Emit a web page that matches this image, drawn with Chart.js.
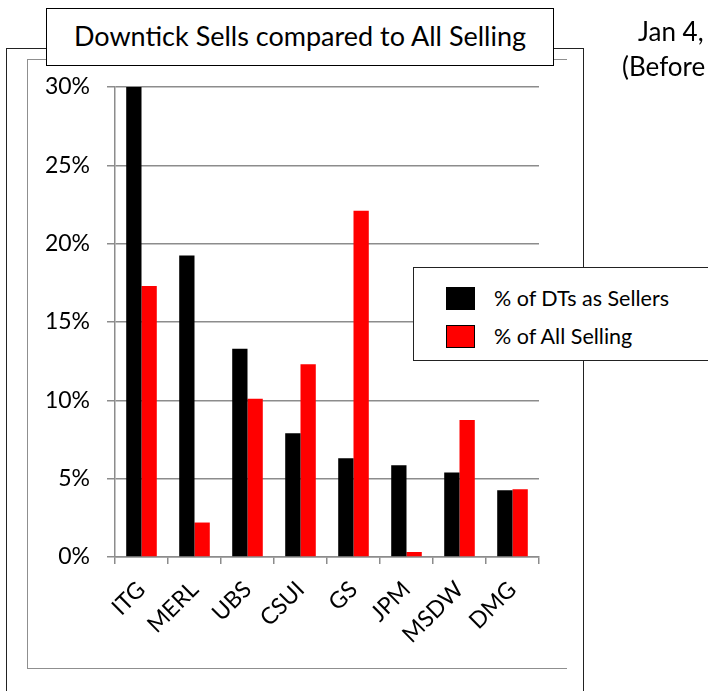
<!DOCTYPE html>
<html>
<head>
<meta charset="utf-8">
<script src="https://cdn.jsdelivr.net/npm/chart.js@4.4.1/dist/chart.umd.min.js"></script>
<style>
  html, body { margin: 0; padding: 0; background: #fff; }
  body { width: 708px; height: 691px; position: relative; overflow: hidden; font-family: Lato, "Open Sans", sans-serif; }
  #outer { position: absolute; left: 6px; top: 48px; width: 578px; height: 700px; border: 1.5px solid #222; box-sizing: border-box; }
  #inner { position: absolute; left: 27px; top: 59px; width: 540px; height: 610px; border-left: 1.5px solid #8f8f8f; border-top: 1.5px solid #8f8f8f; border-bottom: 1.5px solid #8f8f8f; box-sizing: border-box; }
  #wrap { position: absolute; left: 0; top: 0; width: 708px; height: 691px; }
  #title { position: absolute; left: 46px; top: 8px; width: 508px; height: 58px; border: 1.5px solid #000; background: #fff; box-sizing: border-box; font-size: 27px; color: #000; text-align: center; line-height: 54px; white-space: nowrap; }
  #side { position: absolute; left: 622px; top: 14px; font-size: 26px; line-height: 35px; color: #000; white-space: nowrap; }
  #legend { position: absolute; left: 413px; top: 267px; width: 300px; height: 94px; border: 1.5px solid #222; background: #fff; box-sizing: border-box; }
  .li { position: absolute; left: 32px; height: 24px; font-size: 21.5px; line-height: 24px; white-space: nowrap; color: #000; }
  .sw { position: absolute; left: 0; top: 0; width: 29px; height: 23px; box-sizing: border-box; border: 1.5px solid #000; }
  .lt { position: absolute; left: 48px; top: -1px; }
</style>
</head>
<body>
<div id="outer"></div>
<div id="inner"></div>
<div id="wrap"><canvas id="c" width="708" height="691"></canvas></div>
<div id="legend"></div>
<div id="title">Downtick Sells compared to All Selling</div>
<div id="side"><div style="padding-left:16px">Jan 4,</div><div>(Before</div></div>
<script>
const chartTitle = 'Downtick Sells compared to All Selling';
const categories = ['ITG', 'MERL', 'UBS', 'CSUI', 'GS', 'JPM', 'MSDW', 'DMG'];
const dtSellers = [30, 19.25, 13.3, 7.9, 6.3, 5.85, 5.4, 4.26];
const allSelling = [17.3, 2.2, 10.1, 12.3, 22.1, 0.32, 8.74, 4.33];
const seriesNames = ['% of DTs as Sellers', '% of All Selling'];
const seriesColors = ['#000000', '#ff0000'];
const yTickValues = [0, 5, 10, 15, 20, 25, 30];
const yTickLabels = ['0%', '5%', '10%', '15%', '20%', '25%', '30%'];

const gridColor = '#8c8c8c';
const tickFont = { family: 'Lato, "Open Sans", sans-serif', size: 23 };

const chart = new Chart(document.getElementById('c'), {
  type: 'bar',
  data: {
    labels: categories,
    datasets: [
      { label: seriesNames[0], data: dtSellers, backgroundColor: seriesColors[0], borderWidth: 0, categoryPercentage: 0.577, barPercentage: 1.0 },
      { label: seriesNames[1], data: allSelling, backgroundColor: seriesColors[1], borderWidth: 0, categoryPercentage: 0.577, barPercentage: 1.0 }
    ]
  },
  options: {
    responsive: false,
    animation: false,
    devicePixelRatio: 1,
    layout: { padding: { left: 0, top: 87, right: 169, bottom: 0 } },
    plugins: { legend: { display: false }, title: { display: false }, tooltip: { enabled: false } },
    scales: {
      x: {
        grid: { display: true, drawOnChartArea: false, drawTicks: true, tickLength: 7, color: gridColor, lineWidth: 1.5, offset: true },
        border: { display: true, color: gridColor, width: 1.5 },
        ticks: { font: tickFont, color: '#000', minRotation: 45, maxRotation: 45, autoSkip: false, padding: 12 },
        afterFit: s => { s.height = 134; }
      },
      y: {
        min: 0, max: 30,
        afterBuildTicks: s => { s.ticks = yTickValues.map(v => ({ value: v })); },
        ticks: { font: tickFont, color: '#000', padding: 17, callback: (v) => yTickLabels[yTickValues.indexOf(v)] },
        grid: { color: gridColor, lineWidth: 1.5, tickLength: 8, drawTicks: true },
        border: { display: true, color: gridColor, width: 1.5 },
        afterFit: s => { s.width = 115; }
      }
    }
  }
});

// legend built from the chart's datasets
const legend = document.getElementById('legend');
chart.data.datasets.forEach((ds, i) => {
  const item = document.createElement('div');
  item.className = 'li';
  item.style.top = (19 + i * 38) + 'px';
  const sw = document.createElement('div');
  sw.className = 'sw';
  sw.style.background = ds.backgroundColor;
  const t = document.createElement('div');
  t.className = 'lt';
  t.textContent = ds.label;
  item.appendChild(sw); item.appendChild(t);
  legend.appendChild(item);
});
</script>
</body>
</html>
